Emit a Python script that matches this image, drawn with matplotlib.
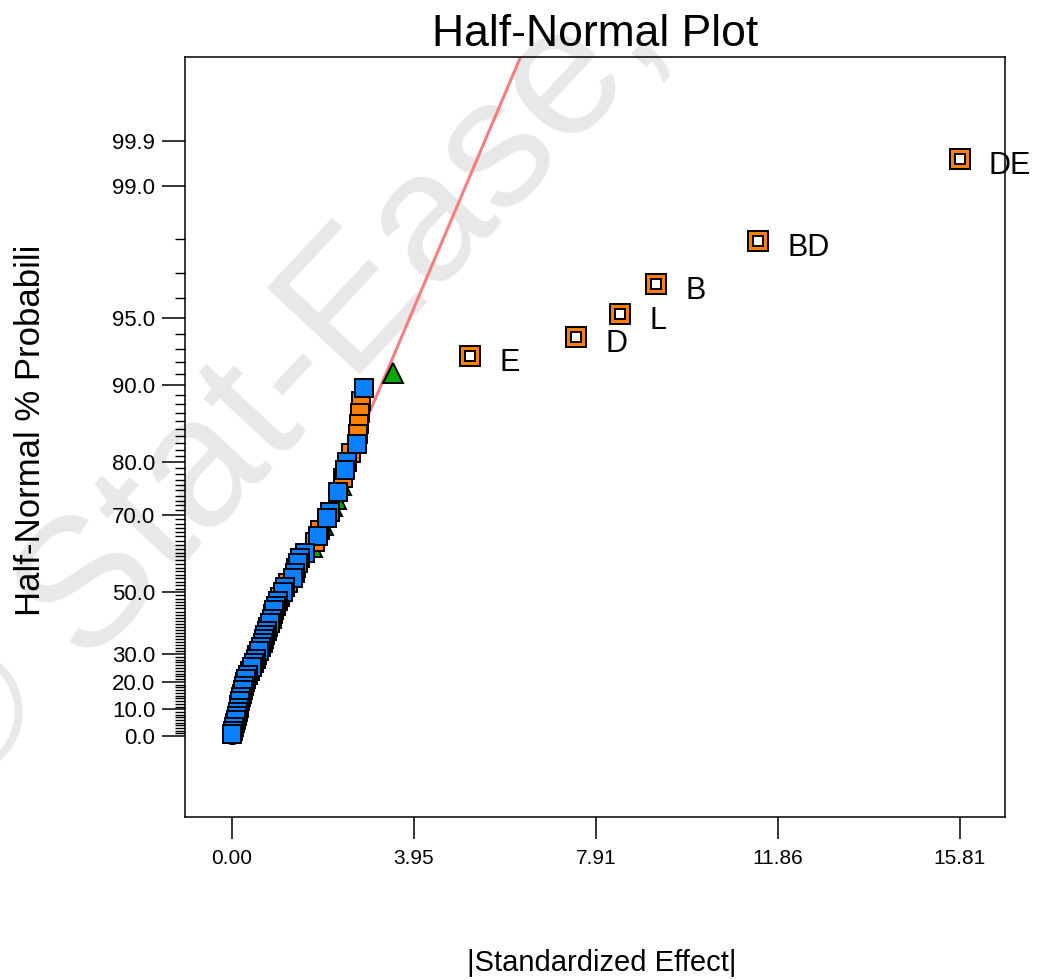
import matplotlib
matplotlib.use("Agg")
import matplotlib.pyplot as plt
from statistics import NormalDist

plt.rcParams["font.family"] = ["Liberation Sans", "DejaVu Sans"]

# |standardized effect|, largest first, with the marker group of each
effects = [15.812, 11.43, 9.22, 8.43, 7.48, 5.17, 3.50, 2.87,
           2.80, 2.78, 2.76, 2.74, 2.72, 2.59, 2.50, 2.46, 2.41, 2.37,
           2.30, 2.26, 2.17, 2.13, 2.07, 1.98, 1.91, 1.87, 1.80, 1.74,
           1.59, 1.48, 1.43, 1.39, 1.37, 1.33, 1.22, 1.15, 1.11, 1.04,
           1.00, 0.96, 0.91, 0.89, 0.87, 0.83, 0.78, 0.76, 0.72, 0.70,
           0.67, 0.63, 0.59, 0.54, 0.52, 0.48, 0.43, 0.39, 0.35, 0.30,
           0.28, 0.26, 0.24, 0.22, 0.20, 0.17, 0.16, 0.15, 0.13, 0.11,
           0.09, 0.07, 0.04, 0.02, 0.01]
groups = (["sel"] * 6 + ["err", "neg"] +
          list("PPPPNPNNPGNGGNNGPNPGNNNPNNPNNPNNNPNNPNNNNNNPNNNPNNPNNPNNPNNNNPNNN"))
sel_labels = ["DE", "BD", "B", "L", "D", "E"]

# probability axis ticks (%); the top label sits where the reference draws it
ytick_pct = [0, 10, 20, 30, 50, 70, 80, 90, 95, 99, 99.47]
ytick_labels = ["0.0", "10.0", "20.0", "30.0", "50.0", "70.0", "80.0",
                "90.0", "95.0", "99.0", "99.9"]
yminor_pct = [p for p in range(1, 99) if p not in ytick_pct]

line_slope = 0.507  # fitted line through the origin (z per unit effect)

nd = NormalDist()


def hn(p):
    # half-normal quantile for a percentage
    return nd.inv_cdf(0.5 + p / 200.0)


code = {"P": "pos", "N": "neg", "G": "err"}
groups = [code.get(g, g) for g in groups]
n = len(effects)
zs = [nd.inv_cdf(1 - (k - 0.5) / (2 * n)) for k in range(1, n + 1)]

fig = plt.figure(figsize=(10.42, 9.8), dpi=100)
ax = fig.add_axes([185 / 1042, 1 - 817 / 980, 820 / 1042, 760 / 980])
ax.set_facecolor("none")

ax.text(-0.04, 0.18, "\u00a9 Stat-Ease, Inc.", transform=fig.transFigure,
        rotation=47, rotation_mode="anchor", ha="left", va="baseline",
        fontsize=132, color="#e8e8e8", zorder=0, clip_on=False)

ymin, ymax = -0.379, 3.18
x_end = ymax / line_slope
ax.plot([0, x_end], [0, line_slope * x_end], color="#f57f7f", lw=2.2, zorder=1)

# smallest effect also carries a circle underneath
ax.plot(effects[-1], zs[-1], "o", ms=14, mfc="#c97a7a", mec="black", mew=1.2, zorder=2)

styles = {
    "err": dict(marker="^", ms=15, mfc="#00a800"),
    "pos": dict(marker="s", ms=13, mfc="#ff8000"),
    "neg": dict(marker="s", ms=13, mfc="#0a80ff"),
}
for g in ["err", "pos", "neg"]:
    xs = [e for e, gg in zip(effects, groups) if gg == g]
    ys = [z for z, gg in zip(zs, groups) if gg == g]
    ax.plot(xs, ys, ls="none", mec="black", mew=1.4, zorder=3, **styles[g])

sx = [e for e, gg in zip(effects, groups) if gg == "sel"]
sy = [z for z, gg in zip(zs, groups) if gg == "sel"]
ax.plot(sx, sy, "s", ms=14.5, mfc="#ff8000", mec="black", mew=1.4, zorder=4)
ax.plot(sx, sy, "s", ms=7, mfc="white", mec="black", mew=1.4, zorder=5)
for x, y, lab in zip(sx, sy, sel_labels):
    ax.annotate(lab, (x, y), xytext=(21, -5), textcoords="offset points",
                ha="left", va="center", fontsize=22, zorder=6)

xmax = max(effects)
xticks = [xmax * i / 4 for i in range(5)]
ax.set_xticks(xticks)
ax.set_xticklabels([f"{t:.2f}" for t in xticks])
ax.set_xlim(-1.02, 16.80)
ax.set_ylim(ymin, ymax)

ax.set_yticks([hn(p) for p in ytick_pct])
ax.set_yticklabels(ytick_labels)
ax.set_yticks([hn(p) for p in yminor_pct], minor=True)

ax.tick_params(axis="x", length=16, width=1.1, pad=7, labelsize=15)
ax.tick_params(axis="y", which="major", length=16.5, width=1.1, pad=5, labelsize=16)
ax.tick_params(axis="y", which="minor", length=7.2, width=1.0)
for s in ax.spines.values():
    s.set_linewidth(1.1)

ax.set_title("Half-Normal Plot", fontsize=32, pad=8)
ax.set_xlabel("|Standardized Effect|", fontsize=21)
ax.xaxis.set_label_coords(0.508, -0.174)
ax.set_ylabel("Half-Normal % Probabili", fontsize=25)
ax.yaxis.set_label_coords(-0.168, 0.509)

fig.savefig("out.png", dpi=100)
